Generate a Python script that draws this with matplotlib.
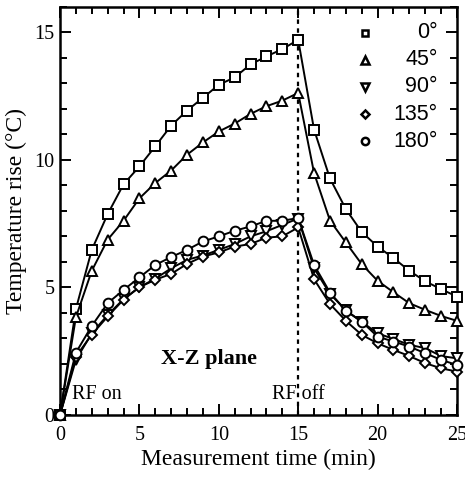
import numpy as np
import matplotlib.pyplot as plt
from matplotlib.ticker import MultipleLocator

plt.rcParams['font.family'] = ['Liberation Serif', 'DejaVu Serif']

# czas pomiaru (min)
czas = list(range(0, 26))

# przyrost temperatury dla kolejnych katow
t0 = [0, 4.15, 6.47, 7.87, 9.04, 9.74, 10.53, 11.34, 11.93, 12.43, 12.94, 13.23, 13.74, 14.05, 14.34, 14.70,
      11.18, 9.27, 8.07, 7.17, 6.60, 6.15, 5.65, 5.24, 4.93, 4.64]
t45 = [0, 3.83, 5.65, 6.87, 7.61, 8.49, 9.09, 9.58, 10.20, 10.68, 11.11, 11.42, 11.80, 12.10, 12.32, 12.62,
       9.48, 7.62, 6.76, 5.91, 5.26, 4.81, 4.38, 4.12, 3.88, 3.69]
t90 = [0, 2.16, 3.20, 3.92, 4.54, 5.01, 5.34, 5.75, 6.08, 6.25, 6.47, 6.70, 7.00, 7.20, 7.45, 7.70,
       5.75, 4.75, 4.10, 3.65, 3.20, 2.98, 2.75, 2.62, 2.31, 2.22]
t135 = [0, 2.29, 3.15, 3.86, 4.52, 5.01, 5.30, 5.53, 5.92, 6.21, 6.37, 6.60, 6.70, 6.95, 7.00, 7.35,
        5.32, 4.35, 3.69, 3.14, 2.81, 2.55, 2.31, 2.03, 1.83, 1.70]
t180 = [0, 2.44, 3.49, 4.38, 4.90, 5.39, 5.88, 6.19, 6.47, 6.80, 7.00, 7.22, 7.39, 7.61, 7.61, 7.72,
        5.88, 4.80, 4.09, 3.66, 3.07, 2.88, 2.68, 2.42, 2.16, 1.96]

serie = [t0, t45, t90, t135, t180]
znaczniki = ['s', '^', 'v', 'D', 'o']
rozmiary = [6.5, 7, 7, 5.5, 7]
etykiety = ['0°', '45°', '90°', '135°', '180°']

fig = plt.figure(figsize=(4.65, 4.78), dpi=100)
ax = fig.add_axes([60 / 465, 63 / 478, 397 / 465, 408.3 / 478])

ax.axvline(15, color='black', lw=1.6, linestyle=(0, (2, 2)), zorder=1)

for y, m, ms in zip(serie, znaczniki, rozmiary):
    ax.plot(czas, y, color='black', lw=1.4, marker=m, ms=ms, mfc='white', mec='black', mew=1.4,
            zorder=3, clip_on=False)

# legenda rysowana recznie (tekst wyrownany do prawej)
for i, (m, ms, lab) in enumerate(zip(znaczniki, rozmiary, etykiety)):
    yy = 0.936 - i * 0.0663
    ax.plot([0.768], [yy], marker=m, ms=ms * 0.75, mfc='white', mec='black', mew=1.8,
            transform=ax.transAxes, ls='none')
    ax.text(0.952, yy, lab, transform=ax.transAxes, ha='right', va='center', fontsize=15.5,
            family=['Liberation Sans Narrow', 'Liberation Sans', 'DejaVu Sans'])

ax.text(0.75, 0.8, 'RF on', fontsize=14.5, ha='left', va='center')
ax.text(15, 0.8, 'RF off', fontsize=14.5, ha='center', va='center')
ax.text(9.4, 2.2, 'X-Z plane', fontsize=16, fontweight='bold', ha='center', va='center')

ax.set_xlim(0, 25)
ax.set_ylim(0, 16)
ax.xaxis.set_major_locator(MultipleLocator(5))
ax.xaxis.set_minor_locator(MultipleLocator(1))
ax.yaxis.set_major_locator(MultipleLocator(5))
ax.yaxis.set_minor_locator(MultipleLocator(1))
ax.tick_params(which='both', direction='in', top=True, right=True, labelsize=14.5, width=1.4)
ax.tick_params(which='major', length=8)
ax.tick_params(which='minor', length=5)
ax.tick_params(axis='x', which='major', pad=8)
ax.tick_params(axis='y', which='major', pad=4)
for s in ax.spines.values():
    s.set_linewidth(1.8)

ax.set_xlabel('Measurement time (min)', fontsize=17, labelpad=3)
ax.set_ylabel('Temperature rise (°C)', fontsize=17, labelpad=5)

fig.savefig('out.png', dpi=100)
